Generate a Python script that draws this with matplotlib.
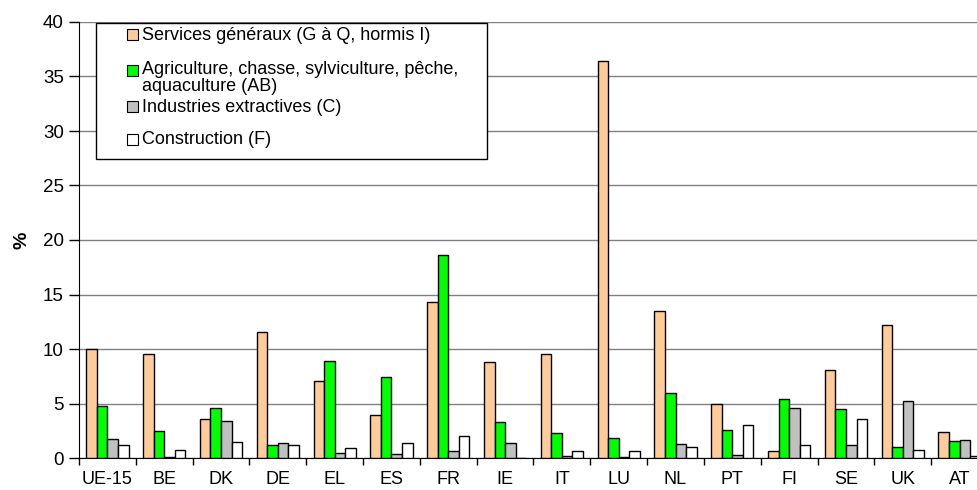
import matplotlib.pyplot as plt
import numpy as np
from matplotlib.patches import Rectangle

plt.rcParams['font.family'] = ['Liberation Sans', 'DejaVu Sans']

# Données (%)
pays = ['UE-15', 'BE', 'DK', 'DE', 'EL', 'ES', 'FR', 'IE', 'IT', 'LU',
        'NL', 'PT', 'FI', 'SE', 'UK', 'AT']
services = [10.0, 9.5, 3.6, 11.6, 7.1, 3.9, 14.3, 8.8, 9.5, 36.4,
            13.5, 5.0, 0.6, 8.1, 12.2, 2.4]
agriculture = [4.8, 2.5, 4.55, 1.15, 8.9, 7.4, 18.6, 3.3, 2.3, 1.8,
               6.0, 2.6, 5.45, 4.5, 1.0, 1.6]
extractives = [1.7, 0.05, 3.35, 1.35, 0.5, 0.35, 0.65, 1.4, 0.15, 0.05,
               1.3, 0.3, 4.55, 1.2, 5.2, 1.65]
construction = [1.2, 0.75, 1.5, 1.2, 0.9, 1.35, 2.0, 0.0, 0.65, 0.6,
                1.0, 3.0, 1.2, 3.55, 0.7, 0.2]

series = [services, agriculture, extractives, construction]
noms = ['Services généraux (G à Q, hormis I)',
        'Agriculture, chasse, sylviculture, pêche,\naquaculture (AB)',
        'Industries extractives (C)',
        'Construction (F)']
couleurs = ['#FFCC99', '#00FF00', '#C0C0C0', '#FFFFFF']

fig = plt.figure(figsize=(9.78, 4.9), dpi=100)
ax = fig.add_axes([79 / 978, 1 - 458 / 490, 909 / 978, 436 / 490])

x = np.arange(len(pays))
larg = 0.186
for i, (vals, c) in enumerate(zip(series, couleurs)):
    ax.bar(x + (i - 1.5) * larg, vals, width=larg, color=c,
           edgecolor='black', linewidth=1.0, zorder=3)

ax.set_xlim(-0.5, len(pays) - 0.5)
ax.set_ylim(0, 40)
ax.set_yticks(range(0, 41, 5))
ax.yaxis.grid(True, color='#808080', linewidth=1, zorder=0)
ax.set_xticks(x)
ax.set_xticklabels(pays)
ax.set_xticks(np.arange(-0.5, len(pays)), minor=True)
ax.tick_params(axis='x', which='major', length=0, pad=9, labelsize=13)
ax.tick_params(axis='x', which='minor', length=5, width=1, direction='out')
ax.tick_params(axis='y', length=7, width=1, labelsize=13.5, pad=4)
for s in ['top', 'right']:
    ax.spines[s].set_visible(False)
for s in ['left', 'bottom']:
    ax.spines[s].set_color('black')
ax.set_ylabel('%', fontsize=14, fontweight='bold', labelpad=9)

# Légende dessinée à la main (chevauchement comme dans l'original)
def fx(px):
    return px / 978

def fy(py):
    return 1 - py / 490

fig.patches.append(Rectangle((fx(96), fy(159)), fx(487) - fx(96), fy(23) - fy(159),
                             transform=fig.transFigure, facecolor='white',
                             edgecolor='black', linewidth=1, zorder=5))
pos_y = [35, 71, 107, 140]
for nom, c, py in zip(noms, couleurs, pos_y):
    fig.patches.append(Rectangle((fx(127), fy(py + 5.5)), fx(11), 11 / 490,
                                 transform=fig.transFigure, facecolor=c,
                                 edgecolor='black', linewidth=0.8, zorder=6))
    if '\n' in nom:
        fig.text(fx(142), fy(61), nom, fontsize=13, va='top', ha='left',
                 zorder=7, linespacing=1.0)
    else:
        fig.text(fx(142), fy(py), nom, fontsize=13, va='center', ha='left',
                 zorder=7)

fig.savefig('out.png', dpi=100)
